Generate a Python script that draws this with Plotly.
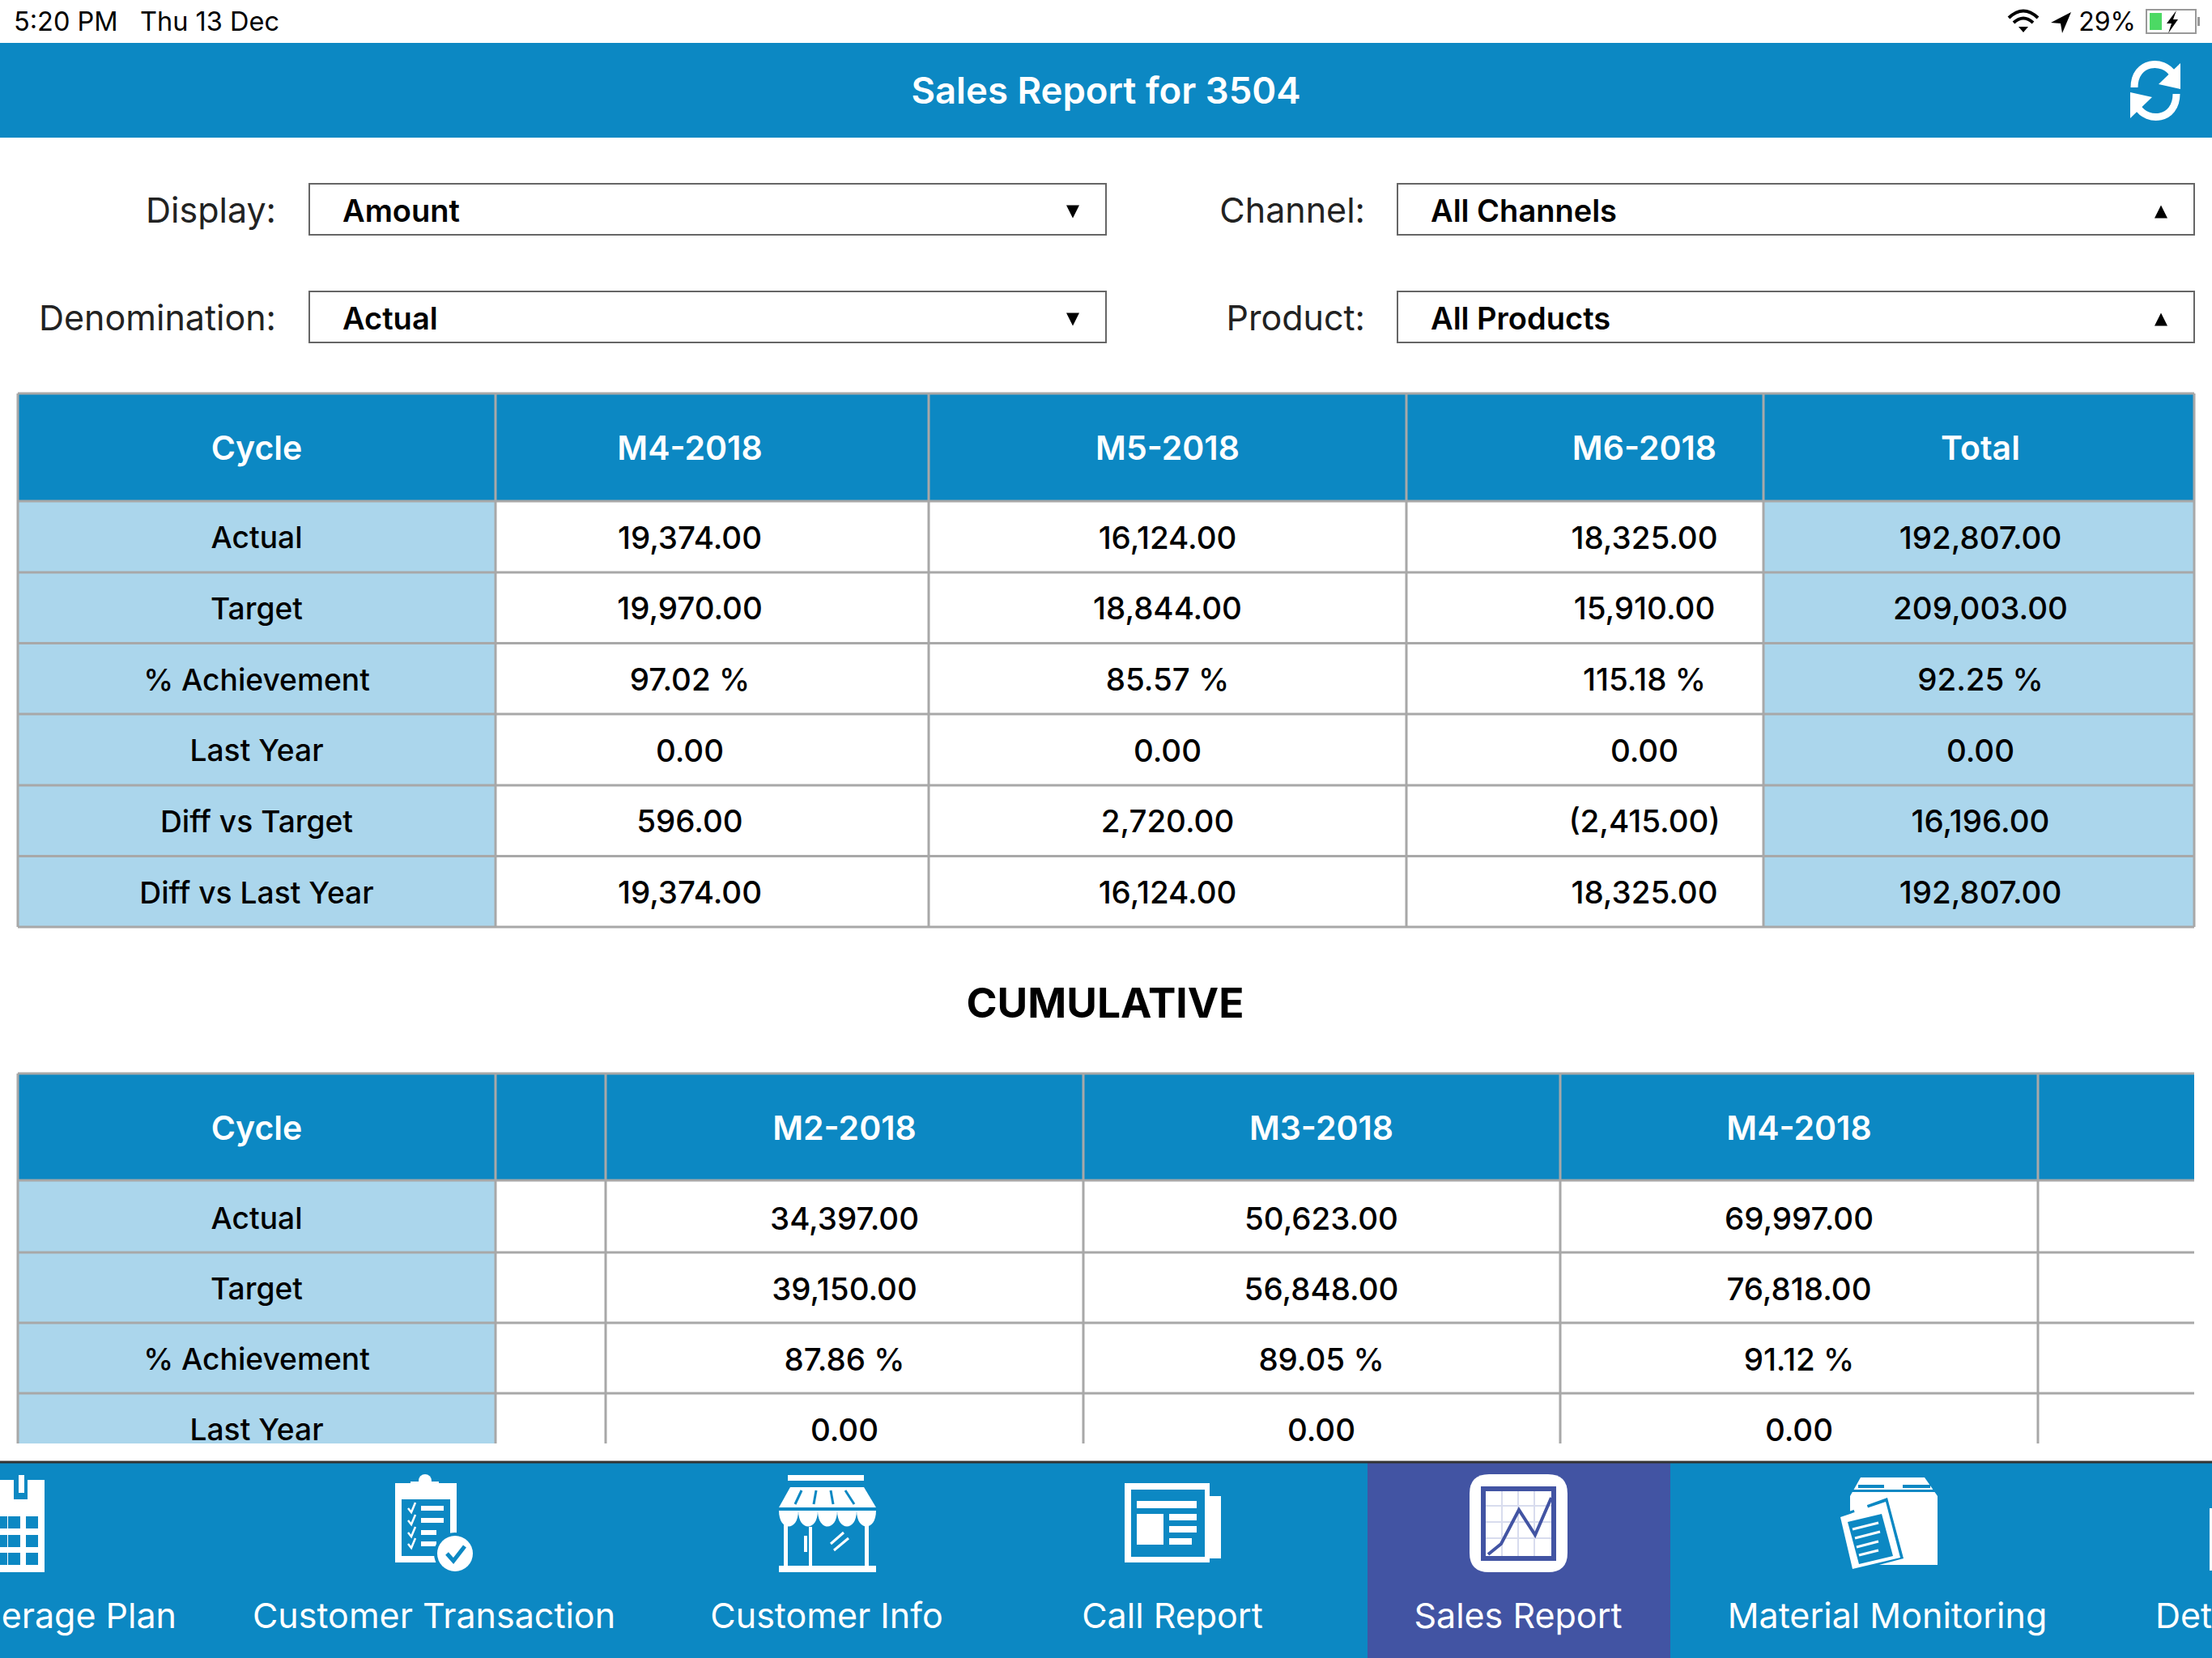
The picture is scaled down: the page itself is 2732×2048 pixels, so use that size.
import plotly.graph_objects as go

# ---------- data ----------
title = "Sales Report for 3504"
status_left = ["5:20 PM", "Thu 13 Dec"]
battery_text = "29%"
filter_labels_left = ["Display:", "Denomination:"]
filter_values_left = ["Amount", "Actual"]
filter_labels_right = ["Channel:", "Product:"]
filter_values_right = ["All Channels", "All Products"]

row_labels = ["Actual", "Target", "% Achievement", "Last Year", "Diff vs Target", "Diff vs Last Year"]
t1_headers = ["Cycle", "M4-2018", "M5-2018", "M6-2018", "Total"]
m4_2018 = ["19,374.00", "19,970.00", "97.02 %", "0.00", "596.00", "19,374.00"]
m5_2018 = ["16,124.00", "18,844.00", "85.57 %", "0.00", "2,720.00", "16,124.00"]
m6_2018 = ["18,325.00", "15,910.00", "115.18 %", "0.00", "(2,415.00)", "18,325.00"]
total = ["192,807.00", "209,003.00", "92.25 %", "0.00", "16,196.00", "192,807.00"]

section_title = "CUMULATIVE"
t2_headers = ["Cycle", "M2-2018", "M3-2018", "M4-2018"]
t2_row_labels = ["Actual", "Target", "% Achievement", "Last Year"]
cum_m2 = ["34,397.00", "39,150.00", "87.86 %", "0.00"]
cum_m3 = ["50,623.00", "56,848.00", "89.05 %", "0.00"]
cum_m4 = ["69,997.00", "76,818.00", "91.12 %", "0.00"]

nav_labels = ["erage Plan", "Customer Transaction", "Customer Info", "Call Report",
              "Sales Report", "Material Monitoring", "Det"]

# ---------- style ----------
W, H = 2732, 2048
BLUE = "#0C88C3"
LIGHT = "#ABD6EC"
PURPLE = "#4254A3"
GRID = "#A8A8A8"
FONT = "Inter"
TEXT_DY = 5
shapes = []
fig = go.Figure()


def rect(x0, y0, x1, y1, fill, line=None, lw=0):
    shapes.append(dict(type="rect", xref="x", yref="y", x0=x0, y0=y0, x1=x1, y1=y1, fillcolor=fill,
                       line=dict(color=line or fill, width=lw), layer="below"))


def seg(x0, y0, x1, y1, color=GRID, lw=3):
    shapes.append(dict(type="line", xref="x", yref="y", x0=x0, y0=y0, x1=x1, y1=y1,
                       line=dict(color=color, width=lw), layer="below"))


def poly(pts, fill):
    d = "M" + " L".join(f"{x},{y}" for x, y in pts) + " Z"
    shapes.append(dict(type="path", xref="x", yref="y", path=d, fillcolor=fill, line=dict(width=0), layer="below"))


def path(d, color, lw, fill=None):
    shapes.append(dict(type="path", xref="x", yref="y", path=d, fillcolor=fill or "rgba(0,0,0,0)",
                       line=dict(color=color, width=lw), layer="below"))


def disc(cx, cy, r, fill):
    shapes.append(dict(type="circle", xref="x", yref="y", x0=cx - r, y0=cy - r, x1=cx + r, y1=cy + r,
                       fillcolor=fill, line=dict(width=0), layer="below"))


def text(labels, xs, ys, size, color="#000000", weight=400, pos="middle center"):
    fig.add_trace(go.Scatter(x=xs, y=[y + TEXT_DY for y in ys], text=labels, mode="text", textposition=pos,
                             cliponaxis=False,
                             textfont=dict(family=FONT, size=size, color=color, weight=weight),
                             showlegend=False, hoverinfo="skip"))


# ---------- status bar ----------
text(status_left, [17, 173], [25, 25], 32.5, pos="middle right")
text([battery_text], [2638], [25], 32, pos="middle left")
path("M2481,22 Q2499,5 2517,22", "#000", 4)
path("M2487,28 Q2499,17 2511,28", "#000", 4)
poly([(2493, 33), (2505, 33), (2499, 40)], "#000")
poly([(2558, 15), (2533, 28), (2545, 29), (2547, 41)], "#000")
shapes.append(dict(type="rect", xref="x", yref="y", x0=2651, y0=12, x1=2712, y1=41,
                   line=dict(color="#999", width=2), fillcolor="rgba(0,0,0,0)", layer="below"))
rect(2655, 16, 2670, 37, "#4CD964")
rect(2714, 21, 2717, 32, "#999")
poly([(2688, 13), (2676, 29), (2682, 29), (2678, 41), (2690, 24), (2684, 24)], "#000")

# ---------- title bar ----------
rect(0, 53, W, 170, BLUE)
text([title], [1366], [112], 45.5, "#FFFFFF", 600)
path("M2636,108 C2636,75 2672,72 2684,92", "#FFFFFF", 9)
poly([(2693, 78), (2693, 110), (2666, 104)], "#FFFFFF")
path("M2688,116 C2688,149 2652,152 2640,132", "#FFFFFF", 9)
poly([(2631, 146), (2631, 114), (2658, 120)], "#FFFFFF")

# ---------- filters ----------
text(filter_labels_left, [341, 341], [259, 392], 43, "#222222", 400, "middle left")
text(filter_labels_right, [1686, 1686], [259, 392], 43, "#222222", 400, "middle left")
text(filter_values_left, [423, 423], [259, 392], 38, "#000", 600, "middle right")
text(filter_values_right, [1767, 1767], [259, 392], 38, "#000", 600, "middle right")
for x0, x1, tx, up in [(382, 1366, 1325, False), (1726, 2710, 2669, True)]:
    for y0, y1 in [(227, 290), (360, 423)]:
        rect(x0, y0, x1, y1, "#FFFFFF", "#666666", 2)
        ym = (y0 + y1) / 2 + 3
        if up:
            poly([(tx - 8, ym + 8), (tx + 8, ym + 8), (tx, ym - 8)], "#000")
        else:
            poly([(tx - 8, ym - 8), (tx + 8, ym - 8), (tx, ym + 8)], "#000")

# ---------- table 1 ----------
LEFT, RIGHT = 22, 2710
t1_cols = [LEFT, 612, 1147, 1737, 2178, RIGHT]
t1_rows = [486, 619, 707, 794.5, 882, 970, 1057.5, 1145]
t1_centers = [(t1_cols[0] + t1_cols[1]) / 2, 852, 1442, 2031, (t1_cols[4] + t1_cols[5]) / 2 + 2]
rect(LEFT, 486, RIGHT, 619, BLUE)
rect(LEFT, 619, 612, 1145, LIGHT)
rect(2178, 619, RIGHT, 1145, LIGHT)
for y in t1_rows:
    seg(LEFT, y, RIGHT, y)
for x in t1_cols:
    seg(x, 486, x, 1145)
t1_ys = [(a + b) / 2 for a, b in zip(t1_rows[1:], t1_rows[2:])]
text(t1_headers, t1_centers, [553] * 5, 41, "#FFFFFF", 600)
text(row_labels, [t1_centers[0]] * len(row_labels), t1_ys, 37.2, "#000", 500)
for i, col in enumerate([m4_2018, m5_2018, m6_2018, total], start=1):
    text(col, [t1_centers[i]] * len(col), t1_ys, 38.5, "#000", 500)

text([section_title], [1365], [1239], 51.5, "#000", 700)

# ---------- table 2 ----------
t2_cols = [LEFT, 612, 748, 1338, 1927, 2517]
t2_rows = [1326, 1458, 1547, 1634, 1721]
CLIP = 1783
t2_centers = [317, 1043, 1632, 2222]
rect(LEFT, 1326, RIGHT, 1458, BLUE)
rect(LEFT, 1458, 612, CLIP, LIGHT)
for y in t2_rows:
    seg(LEFT, y, RIGHT, y)
for x in t2_cols:
    seg(x, 1326, x, CLIP)
t2_ys = [1504, 1591, 1678, 1765]
text(t2_headers, t2_centers, [1393] * 4, 41, "#FFFFFF", 600)
text(t2_row_labels, [t2_centers[0]] * 4, t2_ys, 37.2, "#000", 500)
for i, col in enumerate([cum_m2, cum_m3, cum_m4], start=1):
    text(col, [t2_centers[i]] * len(col), t2_ys, 38.5, "#000", 500)

# ---------- navigation bar ----------
rect(0, 1806, W, H, BLUE)
rect(1689, 1806, 2063, H, PURPLE)
seg(0, 1806, W, 1806, "#333333", 3)
text(nav_labels[:1], [218], [1995], 43, "#FFFFFF", 400, "middle left")
text(nav_labels[1:6], [536, 1021, 1448, 1875, 2331], [1995] * 5, 43, "#FFFFFF")
text(nav_labels[6:], [2662], [1995], 43, "#FFFFFF", 400, "middle right")

# calendar icon
rect(0, 1828, 55, 1942, "#FFFFFF")
rect(17, 1828, 34, 1852, BLUE)
rect(23, 1822, 30, 1844, "#FFFFFF")
rect(0, 1860, 55, 1864, "#FFFFFF")
for cx in [-6, 10, 32]:
    for cy in [1873, 1896, 1918]:
        rect(cx, cy, cx + 15, cy + 15, BLUE)

# clipboard icon
rect(488, 1832, 564, 1930, "#FFFFFF")
rect(496, 1852, 556, 1922, BLUE)
rect(507, 1830, 542, 1843, "#FFFFFF")
disc(525, 1829, 8, "#FFFFFF")
for y, xe in [(1863, 548), (1878, 548), (1893, 539), (1907, 539)]:
    rect(520, y - 3, xe, y + 3, "#FFFFFF")
    path(f"M504,{y} L508,{y + 5} L513,{y - 7}", "#FFFFFF", 2.5)
disc(562, 1919, 26, BLUE)
disc(562, 1919, 22, "#FFFFFF")
path("M552,1919 L560,1928 L574,1910", BLUE, 5)

# store icon
rect(973, 1822, 1067, 1829, "#FFFFFF")
poly([(976, 1837), (1067, 1837), (1082, 1862), (962, 1862)], "#FFFFFF")
for xa, xb in [(990, 982), (1008, 1005), (1026, 1029), (1044, 1055)]:
    path(f"M{xa},1841 L{xb},1858", BLUE, 3)
for k in range(5):
    x = 962 + 24 * k
    path(f"M{x},1866 L{x + 24},1866 C{x + 24},1892 {x},1892 {x},1866 Z", "#FFFFFF", 0, "#FFFFFF")
rect(968, 1882, 973, 1936, "#FFFFFF")
rect(1068, 1882, 1073, 1936, "#FFFFFF")
rect(999, 1886, 1003, 1936, "#FFFFFF")
path("M995,1897 L995,1917", "#FFFFFF", 4)
path("M1026,1907 L1042,1893 M1030,1915 L1048,1900", "#FFFFFF", 3)
rect(962, 1934, 1082, 1942, "#FFFFFF")

# newspaper icon
rect(1389, 1832, 1494, 1930, "#FFFFFF")
rect(1494, 1848, 1508, 1925, "#FFFFFF")
rect(1397, 1840, 1488, 1923, BLUE)
rect(1404, 1854, 1478, 1863, "#FFFFFF")
rect(1404, 1870, 1437, 1908, "#FFFFFF")
rect(1444, 1870, 1478, 1878, "#FFFFFF")
rect(1444, 1885, 1478, 1893, "#FFFFFF")
rect(1444, 1900, 1472, 1908, "#FFFFFF")

# sales report icon
r = 24
path(f"M{1815 + r},1821 L{1936 - r},1821 Q1936,1821 1936,{1821 + r} L1936,{1942 - r} Q1936,1942 {1936 - r},1942 "
     f"L{1815 + r},1942 Q1815,1942 1815,{1942 - r} L1815,{1821 + r} Q1815,1821 {1815 + r},1821 Z",
     "#FFFFFF", 0, "#FFFFFF")
for gx in [1855, 1875, 1895]:
    seg(gx, 1840, gx, 1924, "#D8DCEE", 2)
for gy in [1860, 1880, 1900]:
    seg(1832, gy, 1918, gy, "#D8DCEE", 2)
shapes.append(dict(type="rect", xref="x", yref="y", x0=1832, y0=1839, x1=1919, y1=1925,
                   line=dict(color=PURPLE, width=6), fillcolor="rgba(0,0,0,0)", layer="below"))
path("M1838,1920 L1854,1907 L1876,1865 L1896,1896 L1916,1850", PURPLE, 4)

# material monitoring icon
poly([(2298, 1825), (2377, 1825), (2393, 1848), (2393, 1933), (2300, 1933), (2285, 1900), (2285, 1848)], "#FFFFFF")
rect(2295, 1834, 2327, 1838, BLUE)
rect(2350, 1834, 2384, 1838, BLUE)
rect(2285, 1840, 2393, 1843, BLUE)
poly([(2270, 1872), (2331, 1850), (2351, 1925), (2287, 1942)], BLUE)
poly([(2273, 1874), (2329, 1855), (2347, 1924), (2288, 1938)], "#FFFFFF")
poly([(2282, 1880), (2324, 1870), (2338, 1922), (2296, 1932)], BLUE)
poly([(2288, 1860), (2304, 1854), (2309, 1868), (2292, 1872)], "#FFFFFF")
for (a, b), (c, d) in [((2288, 1889), (2320, 1881)), ((2291, 1900), (2322, 1892)),
                       ((2293, 1911), (2320, 1904)), ((2296, 1921), (2320, 1915))]:
    seg(a, b, c, d, "#FFFFFF", 3)
rect(2729, 1863, W, 1940, "#FFFFFF")

fig.update_layout(
    width=W, height=H, autosize=False, margin=dict(l=0, r=0, t=0, b=0),
    paper_bgcolor="#FFFFFF", plot_bgcolor="#FFFFFF", showlegend=False, shapes=shapes,
    xaxis=dict(range=[0, W], visible=False, fixedrange=True),
    yaxis=dict(range=[H, 0], visible=False, fixedrange=True),
    font=dict(family=FONT),
)
fig.write_html("out.html", config=dict(displayModeBar=False),
               post_script="document.body.style.margin='0';document.body.style.overflow='hidden';")
